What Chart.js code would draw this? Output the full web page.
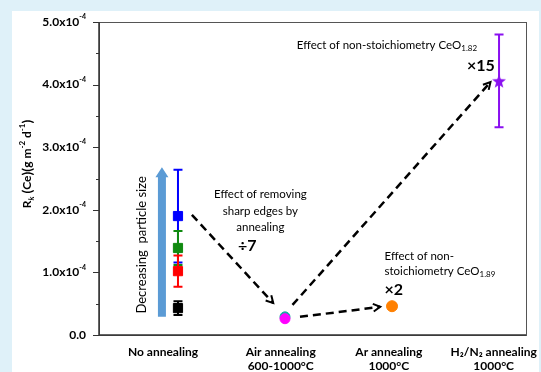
<!DOCTYPE html>
<html>
<head>
<meta charset="utf-8">
<script src="https://cdn.jsdelivr.net/npm/chart.js@4/dist/chart.umd.min.js"></script>
<style>
  html, body { margin: 0; padding: 0; background: #dff1f9; }
  canvas { display: block; }
</style>
</head>
<body>
<canvas id="chart" width="541" height="372"></canvas>
<script>
// ---- Categories and tick labels ----
const categories = [
  ['No annealing'],
  ['Air annealing', '600-1000\u00b0C'],
  ['Ar annealing', '1000\u00b0C'],
  ['H\u2082/N\u2082 annealing', '1000\u00b0C']
];
const categoryLabelX = [0.86, 1.96, 2.97, 3.95];
const yTickValues = [0, 1e-4, 2e-4, 3e-4, 4e-4, 5e-4];

// ---- Dissolution rates R_k(Ce), g m^-2 d^-1 ----
// No annealing, four particle sizes (largest to smallest)
const noAnnealX = 1;
const noAnnealBlack = 0.43e-4, noAnnealBlackErr = 0.11e-4;
const noAnnealRed   = 1.02e-4, noAnnealRedErr   = 0.25e-4;
const noAnnealGreen = 1.39e-4, noAnnealGreenErr = 0.27e-4;
const noAnnealBlue  = 1.90e-4, noAnnealBlueErr  = 0.74e-4;
// Air annealing 600-1000 C
const airX = 2;
const airMagenta = 0.26e-4;
const airCyan = 0.29e-4;
// Ar annealing 1000 C
const arX = 3;
const arRate = 0.46e-4, arErr = 0.04e-4;
// H2/N2 annealing 1000 C
const h2n2X = 4;
const h2n2Rate = 4.06e-4, h2n2Err = 0.74e-4;

// ---- Trend arrows (from, to) in data units ----
const trendArrows = [
  [[1.13, 1.92e-4], [1.89, 0.51e-4]],
  [[2.14, 0.29e-4], [2.89, 0.45e-4]],
  [[2.07, 0.48e-4], [3.92, 4.04e-4]]
];

// Particle size arrow (x, bottom, top)
const sizeArrow = [0.85, 0.29e-4, 2.68e-4];
const sizeText = 'Decreasing  particle size';

// ---- Text notes ----
const noteRemoving = ['Effect of removing', 'sharp edges by', 'annealing'];
const factorAir = '\u00f77';
const noteAr = ['Effect of non-', 'stoichiometry CeO', '1.89'];
const factorAr = '\u00d72';
const noteH2 = ['Effect of non-stoichiometry CeO', '1.82'];
const factorH2 = '\u00d715';

const FONT = 'Lato, "Open Sans", sans-serif';

function starImage(size, color) {
  const c = document.createElement('canvas');
  c.width = c.height = size;
  const g = c.getContext('2d');
  g.fillStyle = color;
  g.beginPath();
  const cx = size / 2, cy = size / 2 + size * 0.06, R = size * 0.52, r = size * 0.22;
  for (let i = 0; i < 10; i++) {
    const rad = i % 2 ? r : R;
    const a = -Math.PI / 2 + i * Math.PI / 5;
    g.lineTo(cx + rad * Math.cos(a), cy + rad * Math.sin(a));
  }
  g.closePath();
  g.fill();
  return c;
}

const datasets = [
  { data: [{ x: noAnnealX, y: noAnnealBlue }], err: [noAnnealBlueErr], color: '#0000ff', pointStyle: 'rect', pointRadius: 6.5 },
  { data: [{ x: noAnnealX, y: noAnnealGreen }], err: [noAnnealGreenErr], color: '#108a10', pointStyle: 'rect', pointRadius: 6.5 },
  { data: [{ x: noAnnealX, y: noAnnealRed }], err: [noAnnealRedErr], color: '#ff0000', pointStyle: 'rect', pointRadius: 6.5 },
  { data: [{ x: noAnnealX, y: noAnnealBlack }], err: [noAnnealBlackErr], color: '#000000', pointStyle: 'rect', pointRadius: 6.5 },
  { data: [{ x: airX, y: airMagenta }], err: [0], color: '#ff00ff', pointStyle: 'circle', pointRadius: 5 },
  { data: [{ x: airX, y: airCyan }], err: [0], color: '#1fa5a5', pointStyle: 'circle', pointRadius: 5 },
  { data: [{ x: arX, y: arRate }], err: [arErr], color: '#ff8000', pointStyle: 'circle', pointRadius: 5.5 },
  { data: [{ x: h2n2X, y: h2n2Rate }], err: [h2n2Err], color: '#8a10f0', pointStyle: starImage(14, '#8a10f0'), pointRadius: 6 }
].map(d => Object.assign(d, {
  backgroundColor: d.color,
  borderColor: d.color,
  borderWidth: 1,
  pointHoverRadius: d.pointRadius,
  showLine: false
}));

// Rich text: segments of [text, font, dy]
function richWidth(ctx, segs) {
  let w = 0;
  for (const s of segs) { ctx.font = s[1]; w += ctx.measureText(s[0]).width; }
  return w;
}
function drawRich(ctx, x, y, segs, align) {
  const w = richWidth(ctx, segs);
  let cx = align === 'center' ? x - w / 2 : align === 'right' ? x - w : x;
  ctx.textAlign = 'left';
  ctx.textBaseline = 'middle';
  for (const s of segs) {
    ctx.font = s[1];
    ctx.fillText(s[0], cx, y + (s[2] || 0));
    cx += ctx.measureText(s[0]).width;
  }
}

function dashedArrow(ctx, x1, y1, x2, y2) {
  ctx.save();
  ctx.strokeStyle = '#000';
  ctx.lineWidth = 2.5;
  ctx.setLineDash([8, 5]);
  ctx.beginPath();
  ctx.moveTo(x1, y1);
  ctx.lineTo(x2, y2);
  ctx.stroke();
  ctx.setLineDash([]);
  ctx.lineWidth = 2;
  const a = Math.atan2(y2 - y1, x2 - x1), L = 8, s = 0.5;
  ctx.beginPath();
  ctx.moveTo(x2 - L * Math.cos(a - s), y2 - L * Math.sin(a - s));
  ctx.lineTo(x2, y2);
  ctx.lineTo(x2 - L * Math.cos(a + s), y2 - L * Math.sin(a + s));
  ctx.stroke();
  ctx.restore();
}

const decorations = {
  id: 'decorations',
  beforeDraw(chart) {
    const ctx = chart.ctx;
    ctx.save();
    ctx.fillStyle = '#dff1f9';
    ctx.fillRect(0, 0, chart.width, chart.height);
    ctx.fillStyle = '#ffffff';
    ctx.fillRect(12, 11, 527, chart.height - 11);
    ctx.restore();
  },
  beforeDatasetsDraw(chart) {
    const ctx = chart.ctx, xs = chart.scales.x, ys = chart.scales.y, a = chart.chartArea;
    const px = v => xs.getPixelForValue(v), py = v => ys.getPixelForValue(v);
    ctx.save();

    // frame
    ctx.strokeStyle = '#555';
    ctx.lineWidth = 1;
    ctx.strokeRect(a.left + 0.5, a.top + 0.5, a.right - a.left, a.bottom - a.top);
    ctx.strokeStyle = '#333';
    ctx.lineWidth = 1.5;
    ctx.beginPath();
    ctx.moveTo(a.left, a.top);
    ctx.lineTo(a.left, a.bottom);
    ctx.lineTo(a.right, a.bottom);
    ctx.stroke();

    // y ticks (major outward, minor halfway)
    ctx.lineWidth = 1;
    ctx.strokeStyle = '#333';
    for (let i = 0; i < yTickValues.length; i++) {
      const y = Math.round(py(yTickValues[i])) + 0.5;
      ctx.beginPath(); ctx.moveTo(a.left - 6, y); ctx.lineTo(a.left, y); ctx.stroke();
      if (i < yTickValues.length - 1) {
        const ym = Math.round(py((yTickValues[i] + yTickValues[i + 1]) / 2)) + 0.5;
        ctx.beginPath(); ctx.moveTo(a.left - 3, ym); ctx.lineTo(a.left, ym); ctx.stroke();
      }
    }
    // y tick labels
    ctx.fillStyle = '#000';
    for (const v of yTickValues) {
      const y = py(v);
      const segs = v === 0
        ? [['0.0', 'bold 12px ' + FONT]]
        : [[(v / 1e-4).toFixed(1) + 'x10', 'bold 12px ' + FONT], ['-4', 'bold 7px ' + FONT, -5]];
      drawRich(ctx, a.left - 13, y, segs, 'right');
    }

    // y axis title
    ctx.save();
    ctx.translate(27, 164);
    ctx.rotate(-Math.PI / 2);
    const tf = 'bold 12px ' + FONT, sf = 'bold 8px ' + FONT, pf = 'bold 14px ' + FONT;
    drawRich(ctx, 0, 0, [
      ['R', tf], ['k', 'italic bold 8px ' + FONT, 4], [' ', tf], ['(', pf], ['Ce', tf], [')', pf],
      ['(', pf], ['g m', tf], ['-2', sf, -5], [' d', tf], ['-1', sf, -5], [')', pf]
    ], 'center');
    ctx.restore();

    // particle size arrow
    const ax = px(sizeArrow[0]), ab = py(sizeArrow[1]), at = py(sizeArrow[2]);
    ctx.fillStyle = '#5b9bd5';
    ctx.beginPath();
    ctx.moveTo(ax - 4, ab);
    ctx.lineTo(ax - 4, at + 10);
    ctx.lineTo(ax - 6.5, at + 10);
    ctx.lineTo(ax, at);
    ctx.lineTo(ax + 6.5, at + 10);
    ctx.lineTo(ax + 4, at + 10);
    ctx.lineTo(ax + 4, ab);
    ctx.closePath();
    ctx.fill();
    ctx.save();
    ctx.translate(px(0.66), py(1.44e-4));
    ctx.rotate(-Math.PI / 2);
    ctx.fillStyle = '#000';
    ctx.font = '13px ' + FONT;
    ctx.textAlign = 'center';
    ctx.textBaseline = 'middle';
    ctx.fillText(sizeText, 0, 0);
    ctx.restore();

    // trend arrows
    for (const [f, t] of trendArrows) dashedArrow(ctx, px(f[0]), py(f[1]), px(t[0]), py(t[1]));

    // notes
    ctx.fillStyle = '#000';
    const nf = '11.5px ' + FONT, nsf = '8px ' + FONT, bf = 'bold 16px ' + FONT;
    drawRich(ctx, px(1.77), py(2.24e-4), [[noteRemoving[0], nf]], 'center');
    drawRich(ctx, px(1.77), py(1.97e-4), [[noteRemoving[1], nf]], 'center');
    drawRich(ctx, px(1.77), py(1.72e-4), [[noteRemoving[2], nf]], 'center');
    drawRich(ctx, px(1.56), py(1.43e-4), [[factorAir, bf]], 'left');

    drawRich(ctx, px(2.93), py(1.25e-4), [[noteAr[0], nf]], 'left');
    drawRich(ctx, px(2.93), py(1.01e-4), [[noteAr[1], nf], [noteAr[2], nsf, 3]], 'left');
    drawRich(ctx, px(2.93), py(0.72e-4), [[factorAr, bf]], 'left');

    drawRich(ctx, px(2.11), py(4.62e-4), [[noteH2[0], nf], [noteH2[1], nsf, 3]], 'left');
    drawRich(ctx, px(3.96), py(4.30e-4), [[factorH2, bf]], 'right');

    // error bars
    chart.data.datasets.forEach(ds => {
      ds.data.forEach((p, i) => {
        const e = ds.err ? ds.err[i] : 0;
        if (!e) return;
        const x = px(p.x), y1 = py(p.y - e), y2 = py(p.y + e);
        ctx.strokeStyle = ds.color;
        ctx.lineWidth = 2;
        ctx.beginPath();
        ctx.moveTo(x, y1); ctx.lineTo(x, y2);
        ctx.moveTo(x - 4.5, y1); ctx.lineTo(x + 4.5, y1);
        ctx.moveTo(x - 4.5, y2); ctx.lineTo(x + 4.5, y2);
        ctx.stroke();
      });
    });
    ctx.restore();
  }
};

new Chart(document.getElementById('chart'), {
  type: 'scatter',
  data: { datasets },
  options: {
    responsive: false,
    animation: false,
    layout: { padding: { top: 22, right: 15, left: 0, bottom: 0 } },
    plugins: { legend: { display: false }, tooltip: { enabled: false } },
    scales: {
      x: {
        type: 'linear', min: 0.262, max: 4.252,
        grid: { display: false, drawTicks: false },
        border: { display: false },
        afterBuildTicks: s => { s.ticks = categoryLabelX.map(v => ({ value: v })); },
        afterFit: s => { s.height = 37; s.paddingLeft = 0; s.paddingRight = 0; },
        ticks: {
          autoSkip: false, maxRotation: 0, minRotation: 0, padding: 10, color: '#000',
          font: { family: FONT, weight: 'bold', size: 12, lineHeight: 1.15 },
          callback: (v, i) => categories[i]
        }
      },
      y: {
        min: 0, max: 5e-4,
        afterBuildTicks: s => { s.ticks = yTickValues.map(v => ({ value: v })); },
        afterFit: s => { s.width = 99; },
        grid: { display: false, drawTicks: false },
        border: { display: false },
        ticks: { display: false }
      }
    }
  },
  plugins: [decorations]
});
</script>
</body>
</html>
